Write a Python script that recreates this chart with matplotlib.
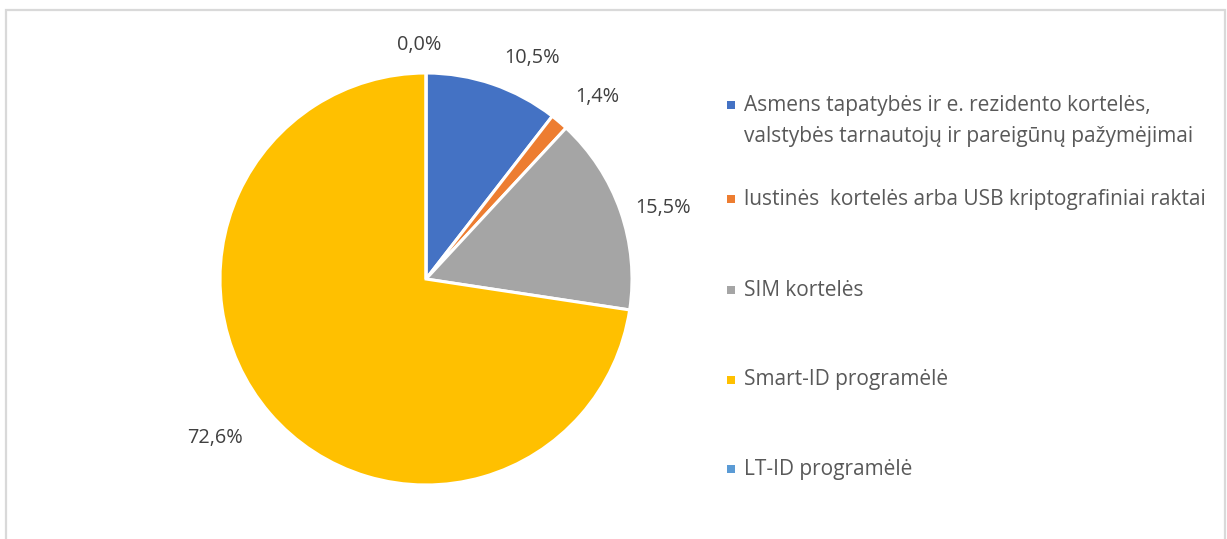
import matplotlib.pyplot as plt
from matplotlib.patches import Rectangle

# duomenys
categories = ['Asmens tapatybės ir e. rezidento kortelės,\nvalstybės tarnautojų ir pareigūnų pažymėjimai',
              'lustinės  kortelės arba USB kriptografiniai raktai',
              'SIM kortelės',
              'Smart-ID programėlė',
              'LT-ID programėlė']
shares = [10.5, 1.4, 15.5, 72.6, 0.0]
labels = ['10,5%', '1,4%', '15,5%', '72,6%', '0,0%']
colors = ['#4472C4', '#ED7D31', '#A5A5A5', '#FFC000', '#5B9BD5']

plt.rcParams['font.family'] = ['Open Sans', 'DejaVu Sans']

fig = plt.figure(figsize=(12.27, 5.39), dpi=100)
W, H = 1227, 539

# rėmelis
fig.add_artist(Rectangle((6 / W, -0.05), (1225 - 6) / W, (539 - 10) / H + 0.05,
                         transform=fig.transFigure, fill=False,
                         edgecolor='#D9D9D9', linewidth=1.6))

# skritulinė diagrama
cx, cy, r = 426, 279, 206
ax = fig.add_axes([(cx - r) / W, (H - cy - r) / H, 2 * r / W, 2 * r / H])
ax.pie(shares, colors=colors, startangle=90, counterclock=False,
       wedgeprops=dict(edgecolor='white', linewidth=2.2))
ax.set_xlim(-1, 1)
ax.set_ylim(-1, 1)

# etikečių vietos (spindulio vienetais)
label_pos = [(0.517, 1.073), (0.834, 0.883), (1.151, 0.346), (-1.024, -0.771), (-0.034, 1.137)]
for t, (x, y) in zip(labels, label_pos):
    ax.text(x, y, t, ha='center', va='center', fontsize=14.3, color='#404040', clip_on=False)

# legenda
leg_y = [121, 199, 290, 380, 469]
for cat, c, y in zip(categories, colors, leg_y):
    first_y = y - 16 if '\n' in cat else y
    fig.add_artist(Rectangle(((727) / W, (H - first_y - 4) / H), 8 / W, 8 / H,
                             transform=fig.transFigure, facecolor=c, edgecolor='none'))
    fig.text(744 / W, (H - y) / H, cat, ha='left', va='center', fontsize=15,
             color='#595959', linespacing=1.6)

fig.savefig('out.png', dpi=100)
